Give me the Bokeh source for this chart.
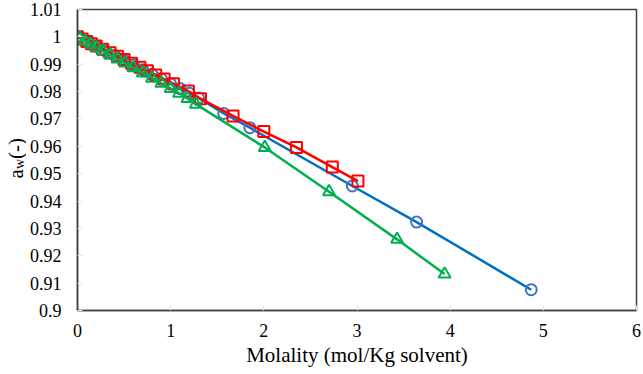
import math
from bokeh.plotting import figure
from bokeh.layouts import row
from bokeh.models import Range1d, FixedTicker
from bokeh.core.properties import value
from bokeh.embed import file_html
from bokeh.resources import INLINE

# Water activity vs. molality for three solutes
blue_m = [0.0, 0.1, 0.2, 0.3, 0.4, 0.5, 0.6, 0.7, 0.8, 0.9, 1.0, 1.1, 1.2, 1.3, 1.57, 1.85, 2.95, 3.64, 4.87]
blue_aw = [1.0, 0.9983, 0.9966, 0.9949, 0.9932, 0.9914, 0.9897, 0.988, 0.9863, 0.9846, 0.9828, 0.9811,
           0.9794, 0.9777, 0.972, 0.9668, 0.9455, 0.9323, 0.9076]

red_m = [0.0, 0.05, 0.1, 0.15, 0.2, 0.27, 0.35, 0.43, 0.5, 0.58, 0.67, 0.75, 0.84, 0.93, 1.03, 1.19, 1.32,
         1.67, 2.0, 2.35, 2.735, 3.01]
red_aw = [1.0, 0.9992, 0.9983, 0.9975, 0.9967, 0.9955, 0.9942, 0.9929, 0.9917, 0.9904, 0.9889, 0.9876,
          0.9861, 0.9846, 0.9829, 0.9802, 0.9774, 0.9711, 0.9654, 0.9596, 0.9524, 0.9473]

green_m = [0.02, 0.08, 0.14, 0.2, 0.27, 0.35, 0.43, 0.51, 0.6, 0.7, 0.8, 0.9, 1.0, 1.09, 1.18, 1.27,
           2.01, 2.70, 3.43, 3.94]
green_aw = [0.9997, 0.9985, 0.9974, 0.9962, 0.9949, 0.9934, 0.9919, 0.9904, 0.9887, 0.9868, 0.9849,
            0.983, 0.9811, 0.9794, 0.9775, 0.9754, 0.9596, 0.9434, 0.926, 0.9133]

x_ticks = [0, 1, 2, 3, 4, 5, 6]
y_ticks = [0.9, 0.91, 0.92, 0.93, 0.94, 0.95, 0.96, 0.97, 0.98, 0.99, 1.0, 1.01]
y_tick_labels = {0.9: "0.9", 0.91: "0.91", 0.92: "0.92", 0.93: "0.93", 0.94: "0.94", 0.95: "0.95",
                 0.96: "0.96", 0.97: "0.97", 0.98: "0.98", 0.99: "0.99", 1.0: "1", 1.01: "1.01"}

FONT = "Liberation Serif"
H = 374
TITLE_W = 26
TOP = 9      # frame top border
BOTTOM = 64  # frame bottom border

# Narrow strip on the left carrying the rotated y-axis title "a_w (-)".
# Its frame is aligned with the main frame by the row layout, so its
# vertical range spans the same pixel rows (y measured upward from the bottom).
t = figure(width=TITLE_W, height=H, output_backend="svg", toolbar_location=None,
           x_range=Range1d(0, TITLE_W), y_range=Range1d(BOTTOM, H - TOP),
           min_border=0, min_border_left=0, min_border_right=0, min_border_top=TOP,
           min_border_bottom=BOTTOM, x_axis_type=None, y_axis_type=None)
t.outline_line_color = None
t.xgrid.visible = False
t.ygrid.visible = False
t.background_fill_color = "white"
t.border_fill_color = "white"
t.text(x=[15.5], y=[H - 178], text=["a"], angle=math.pi / 2,
       text_font=value(FONT), text_font_size="21px", text_baseline="alphabetic",
       text_align="left", text_color="black")
t.text(x=[19], y=[H - 168.6], text=["w"], angle=math.pi / 2,
       text_font=value(FONT), text_font_size="14px", text_baseline="alphabetic",
       text_align="left", text_color="black")
t.text(x=[15.5], y=[H - 158.6], text=[" (-)"], angle=math.pi / 2,
       text_font=value(FONT), text_font_size="21px", text_baseline="alphabetic",
       text_align="left", text_color="black")

p = figure(width=643 - TITLE_W, height=H, output_backend="svg", toolbar_location=None,
           x_range=Range1d(0, 6), y_range=Range1d(0.9, 1.01),
           min_border_left=75 - TITLE_W, min_border_right=7, min_border_top=TOP,
           min_border_bottom=BOTTOM)
p.background_fill_color = "white"
p.border_fill_color = "white"
p.outline_line_color = "#404040"
p.outline_line_width = 1.5
p.xgrid.visible = False
p.ygrid.visible = False

p.axis.axis_line_color = "#404040"
p.axis.axis_line_width = 1.5
p.axis.major_tick_out = 0
p.axis.major_tick_in = 5
p.axis.major_tick_line_color = "#e4e4e4"
p.axis.minor_tick_line_color = None
p.axis.major_label_text_font = FONT
p.axis.major_label_text_font_size = "18px"
p.axis.major_label_text_color = "black"

p.xaxis.ticker = FixedTicker(ticks=x_ticks)
p.yaxis.ticker = FixedTicker(ticks=y_ticks)
p.yaxis.major_label_overrides = y_tick_labels
p.xaxis.major_label_standoff = 13
p.yaxis.major_label_standoff = 16

p.xaxis.axis_label = "Molality (mol/Kg solvent)"
p.xaxis.axis_label_text_font = FONT
p.xaxis.axis_label_text_font_style = "normal"
p.xaxis.axis_label_text_font_size = "21px"
p.xaxis.axis_label_text_color = "black"
p.xaxis.axis_label_standoff = 3

# Series: line first, then markers on top
p.line(blue_m, blue_aw, line_color="#0070C0", line_width=2.5)
p.scatter(blue_m, blue_aw, marker="circle", size=11, fill_color=None,
          line_color="#4472C4", line_width=2)

p.line(red_m, red_aw, line_color="#FF0000", line_width=2.5)
p.scatter(red_m, red_aw, marker="square", size=11, fill_color=None,
          line_color="#FF0000", line_width=2)

p.line(green_m, green_aw, line_color="#00B050", line_width=2.5)
p.scatter(green_m, green_aw, marker="triangle", size=12, fill_color=None,
          line_color="#00B050", line_width=2)

layout = row(t, p, spacing=0)
open("out.html", "w").write(file_html(layout, INLINE))
